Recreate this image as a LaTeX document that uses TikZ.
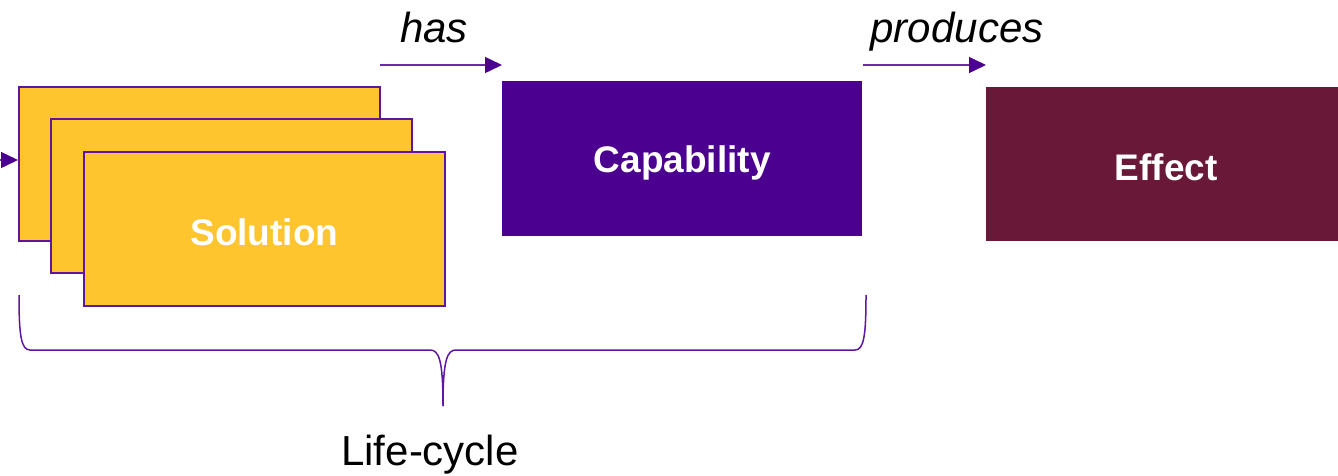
\documentclass[tikz,border=0pt]{standalone}
\usepackage{fontspec}
\setmainfont{Liberation Sans}
\usetikzlibrary{arrows.meta}
\definecolor{solfill}{HTML}{FFC52F}
\definecolor{purp}{HTML}{5E16A0}
\definecolor{linep}{HTML}{6A2AAA}
\definecolor{capfill}{HTML}{4C0090}
\definecolor{efffill}{HTML}{691838}
\tikzset{
  solbox/.style={draw=purp, line width=1.8pt, fill=solfill},
  boxtext/.style={text=white, font=\fontsize{37}{40}\selectfont\bfseries},
  lbl/.style={font=\fontsize{42}{46}\selectfont\itshape, anchor=base},
  conn/.style={draw=linep, line width=1.5pt, -{Triangle[length=17pt,width=16pt,color=capfill]}},
  bracestyle/.style={draw=purp, line width=1.5pt}
}
\begin{document}
\begin{tikzpicture}[x=1pt,y=-1pt]
\useasboundingbox (0,0) rectangle (1338,475);
% solution stack
\draw[solbox] (19,87) rectangle (380,241);
\draw[solbox] (51,119) rectangle (412,273);
\node[solbox, minimum width=361pt, minimum height=154pt, inner sep=0pt, anchor=north west] (sol) at (83,151) {};
\node[boxtext] at ([yshift=-3pt]sol.center) {Solution};
\coordinate (back) at (18,160);
\coordinate (offl) at (-60,160);
\draw[conn] (offl) -- (back);
% capability
\node[fill=capfill, minimum width=360pt, minimum height=155pt, inner sep=0pt, anchor=north west] (cap) at (502,81) {};
\node[boxtext] at ([yshift=-4pt]cap.center) {Capability};
% effect
\node[fill=efffill, minimum width=352pt, minimum height=154pt, inner sep=0pt, anchor=north west] (eff) at (986,87) {};
\node[boxtext] at ([xshift=4pt,yshift=-3pt]eff.center) {Effect};
% arrows
\coordinate (h1) at (380,65);
\coordinate (h2) at (502,65);
\coordinate (p1) at (863,65);
\coordinate (p2) at (986,65);
\draw[conn] (h1) -- (h2);
\draw[conn] (p1) -- (p2);
\node[lbl] (has) at (434,42) {has};
\node[lbl] (prod) at (957,42) {produces};
% brace
\coordinate (bl) at (19,295);
\coordinate (br) at (866,295);
\coordinate (bm) at (443,406);
\draw[bracestyle] (bl) .. controls (19,335) and (21,350) .. (30,350) -- (430,350) .. controls (439,350) and (443,360) .. (bm);
\draw[bracestyle] (br) .. controls (866,335) and (864,350) .. (855,350) -- (456,350) .. controls (447,350) and (443,360) .. (bm);
\node[font=\fontsize{42}{46}\selectfont, anchor=base] (life) at (430,465) {Life-cycle};
\end{tikzpicture}
\end{document}
